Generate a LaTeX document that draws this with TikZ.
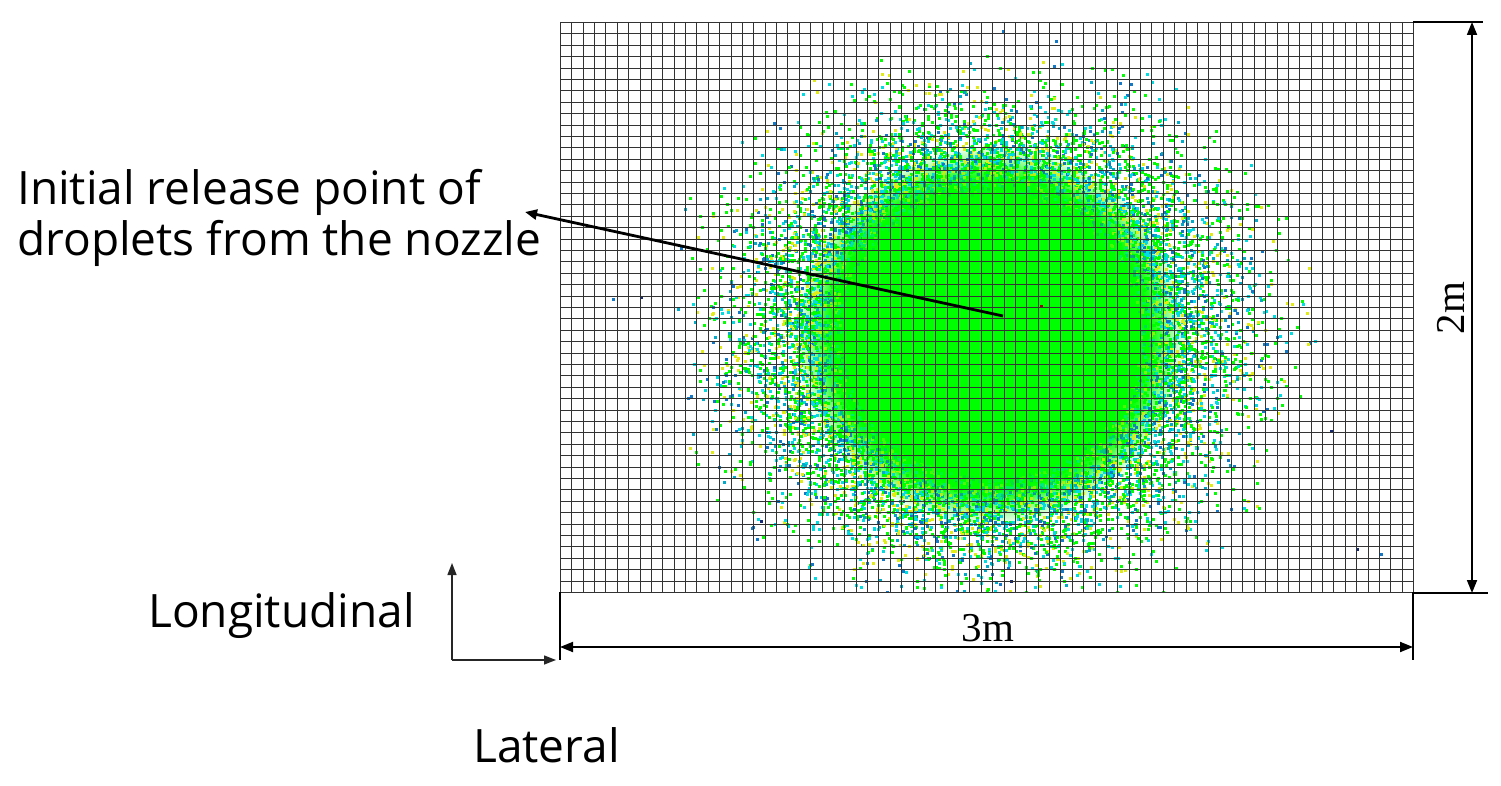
\documentclass[tikz,border=0pt]{standalone}
\usepackage{fontspec}
\usetikzlibrary{arrows.meta,fadings}
\newfontfamily\labelfont{Open Sans}
\newfontfamily\dimfont{Liberation Serif}
\definecolor{dgreen}{RGB}{0,255,0}
\definecolor{dcyan}{RGB}{0,220,225}
\definecolor{dyellow}{RGB}{225,235,20}
\definecolor{dblue}{RGB}{20,120,200}
\definecolor{dnavy}{RGB}{20,40,120}
\definecolor{dteal}{RGB}{0,170,200}
\colorlet{dotc1}{dgreen}
\colorlet{dotc2}{dgreen}
\colorlet{dotc3}{dgreen}
\colorlet{dotc4}{dgreen}
\colorlet{dotc5}{dgreen}
\colorlet{dotc6}{dcyan}
\colorlet{dotc7}{dcyan}
\colorlet{dotc8}{dcyan}
\colorlet{dotc9}{dyellow}
\colorlet{dotc10}{dyellow}
\colorlet{dotc11}{dblue}
\colorlet{dotc12}{dteal}
\tikzset{
  gridline/.style={black!80,line width=1.4pt},
  dimline/.style={black,line width=1.8pt},
  dimarrow/.style={black,line width=1.8pt,{Triangle[length=13pt,width=10pt]}-{Triangle[length=13pt,width=10pt]}},
  axisarrow/.style={black!85,line width=1.4pt,-{Triangle[length=12pt,width=9pt]}},
  pointer/.style={black,line width=2.8pt,-{Triangle[length=12pt,width=10pt]}},
  sanslabel/.style={font=\labelfont\fontsize{46}{52}\selectfont,inner sep=0pt},
  dimlabel/.style={font=\dimfont\fontsize{41}{45}\selectfont,inner sep=0pt},
  droplet/.style={fill=dotc#1},
}
\begin{document}
\begin{tikzpicture}[x=1pt,y=-1pt]
\useasboundingbox (0,0) rectangle (1501,786);
% droplet cloud
\begin{scope}
\clip (560,22) rectangle (1413,592);
\fill[dgreen,path fading=circle with fuzzy edge 20 percent] (990,335) ellipse [x radius=195, y radius=190];
\pgfmathsetseed{11}
% outer sparse population
\foreach \i in {1,...,5500}{
  \pgfmathsetmacro{\th}{rnd*360}
  \pgfmathsetmacro{\rr}{165+58*abs(rand+rand+rand)}
  \pgfmathsetmacro{\dx}{990+1.05*\rr*cos(\th)}
  \pgfmathsetmacro{\dy}{335+0.95*\rr*sin(\th)}
  \pgfmathrandominteger{\c}{1}{12}
  \fill[droplet=\c] (\dx,\dy) rectangle ++(3,3);
}
% inner dense population
\foreach \i in {1,...,4500}{
  \pgfmathsetmacro{\th}{rnd*360}
  \pgfmathsetmacro{\rr}{145+40*abs(rand+rand+rand)}
  \pgfmathsetmacro{\dx}{990+1.03*\rr*cos(\th)}
  \pgfmathsetmacro{\dy}{335+0.98*\rr*sin(\th)}
  \pgfmathrandominteger{\c}{1}{12}
  \fill[droplet=\c] (\dx,\dy) rectangle ++(3,3);
}
\fill[dgreen,path fading=circle with fuzzy edge 20 percent] (990,335) ellipse [x radius=175, y radius=172];
\fill[dblue] (612,298) rectangle ++(3,3);
\fill[dnavy] (640,296) rectangle ++(3,3);
\fill[dblue] (1380,553) rectangle ++(3,3);
\fill[dnavy] (1356,548) rectangle ++(3,3);
\fill[dblue] (690,395) rectangle ++(3,3);
\fill[dnavy] (1010,580) rectangle ++(3,3);
\fill[dnavy] (1330,430) rectangle ++(3,3);
\fill[dnavy] (760,520) rectangle ++(3,3);
\fill[red!60!black] (1040,305) rectangle ++(3,3);
\end{scope}
% grid
\foreach \i in {0,...,75}{
  \pgfmathsetmacro{\gx}{round(560+\i*11.3733)+0.5}
  \draw[gridline] (\gx,22) -- (\gx,592);
}
\foreach \j in {0,...,50}{
  \pgfmathsetmacro{\gy}{round(22+\j*11.4)+0.5}
  \draw[gridline] (560,\gy) -- (1413,\gy);
}
% dimension lines
\coordinate (tr) at (1413,22);
\coordinate (trx) at (1483,22);
\coordinate (br) at (1413,593);
\coordinate (brx) at (1488,593);
\coordinate (vtop) at (1472,22);
\coordinate (vbot) at (1472,593);
\draw[dimline] (tr) -- (trx);
\draw[dimline] (br) -- (brx);
\draw[dimarrow] (vtop) -- (vbot);
\coordinate (bl) at (560,592);
\coordinate (blx) at (560,660);
\coordinate (br2) at (1413,592);
\coordinate (brx2) at (1413,660);
\coordinate (hl) at (560,647);
\coordinate (hr) at (1413,647);
\draw[dimline] (bl) -- (blx);
\draw[dimline] (br2) -- (brx2);
\draw[dimarrow] (hl) -- (hr);
\node[dimlabel,anchor=base] (three) at (988,641) {3m};
\node[dimlabel,rotate=90] (two) at (1451,308) {2m};
% axes
\coordinate (orig) at (452,660);
\coordinate (up) at (452,563);
\coordinate (right) at (556,660);
\draw[axisarrow] (orig) -- (up);
\draw[axisarrow] (orig) -- (right);
\node[sanslabel,anchor=base west] (long) at (148,627) {Longitudinal};
\node[sanslabel,anchor=base west] (lat) at (473,762) {Lateral};
% pointer
\coordinate (release) at (1003,316);
\coordinate (ptip) at (525,212);
\draw[pointer] (release) -- (ptip);
\node[sanslabel,anchor=base west] (lab1) at (17,205) {Initial release point of};
\node[sanslabel,anchor=base west] (lab2) at (17,256) {droplets from the nozzle};
\end{tikzpicture}
\end{document}
